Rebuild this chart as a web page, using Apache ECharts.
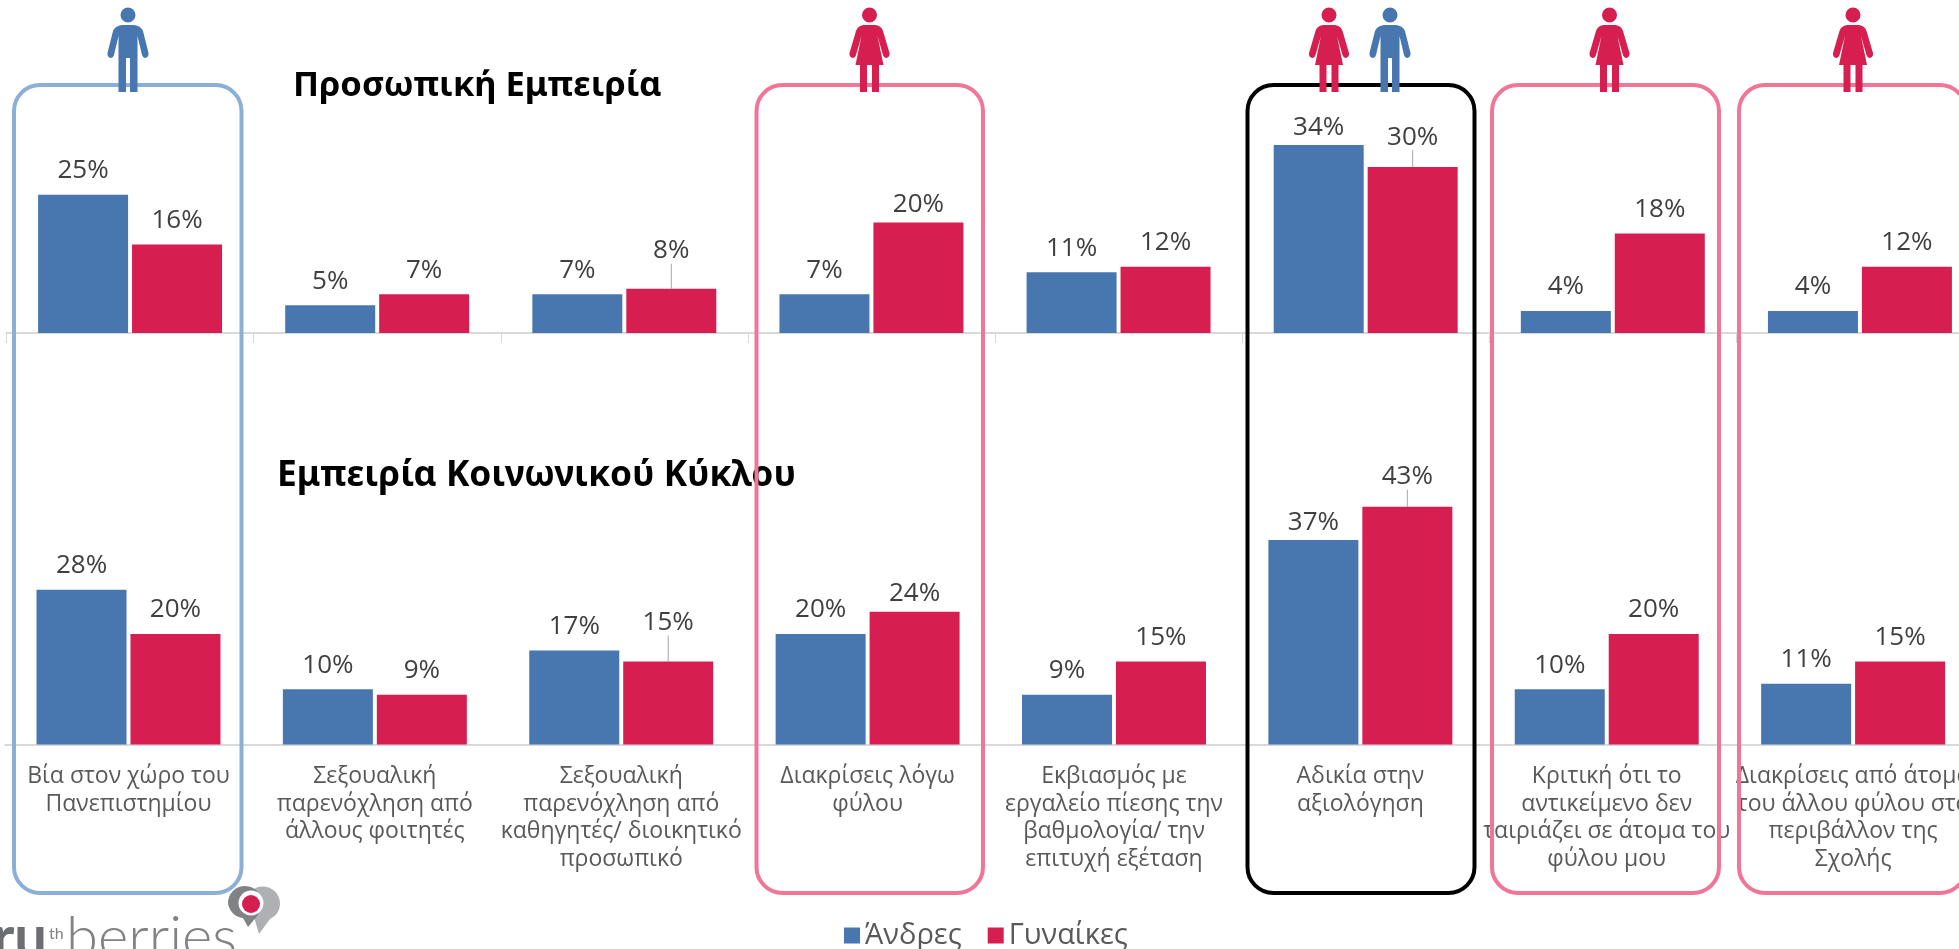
<!DOCTYPE html>
<html>
<head>
<meta charset="utf-8">
<title>Εμπειρία</title>
<script src="https://cdn.jsdelivr.net/npm/echarts@6/dist/echarts.min.js"></script>
<style>
  html, body { margin: 0; padding: 0; background: #fff; overflow: hidden; }
  #chart { width: 1959px; height: 949px; }
</style>
</head>
<body>
<div id="chart"></div>
<script>
var categories = [
  'Βία στον χώρο του\nΠανεπιστημίου',
  'Σεξουαλική\nπαρενόχληση από\nάλλους φοιτητές',
  'Σεξουαλική\nπαρενόχληση από\nκαθηγητές/ διοικητικό\nπροσωπικό',
  'Διακρίσεις λόγω\nφύλου',
  'Εκβιασμός με\nεργαλείο πίεσης την\nβαθμολογία/ την\nεπιτυχή εξέταση',
  'Αδικία στην\nαξιολόγηση',
  'Κριτική ότι το\nαντικείμενο δεν\nταιριάζει σε άτομα του\nφύλου μου',
  'Διακρίσεις από άτομα\nτου άλλου φύλου στο\nπεριβάλλον της\nΣχολής'
];
var menPersonal = [25, 5, 7, 7, 11, 34, 4, 4];
var womenPersonal = [16, 7, 8, 20, 12, 30, 18, 12];
var menCircle = [28, 10, 17, 20, 9, 37, 10, 11];
var womenCircle = [20, 9, 15, 24, 15, 43, 20, 15];

var BLUE = '#4777ae';
var RED = '#d61f50';
var FONT = '"Open Sans", "Noto Sans", sans-serif';

// labels moved by hand in the original, index -> dy
var shiftMenPersonal = { 5: 7 };
var shiftWomenPersonal = { 2: -14, 3: 6, 5: -6 };
var shiftMenCircle = { 5: 7 };
var shiftWomenCircle = { 2: -15, 3: 6, 5: -6 };
// these ones have a leader line
var leaderWomen = [2, 5];

// icon shapes, drawn around x = 0
var HEAD = 'M-7.5,15 A7.5,7.5 0 1 1 7.5,15 A7.5,7.5 0 1 1 -7.5,15 Z ';
var WOMAN = HEAD + 'M-6,25 L6,25 Q12,26 13.5,31 L20,53 Q20.5,57 17,58 Q14.5,58 13.5,55 L8,36 L14,65 L9.5,65 L9.5,92 L2.5,92 L2.5,65 L-2.5,65 L-2.5,92 L-9.5,92 L-9.5,65 L-14,65 L-8,36 L-13.5,55 Q-14.5,58 -17,58 Q-20.5,57 -20,53 L-13.5,31 Q-12,26 -6,25 Z';
var MAN = HEAD + 'M-6,25 L6,25 Q13,26 15,31 L20.5,53 Q21,57 17.5,58 Q15,58 14,55 L9.5,36 L9.5,92 L2,92 L2,58 L-2,58 L-2,92 L-9.5,92 L-9.5,36 L-14,55 Q-15,58 -17.5,58 Q-21,57 -20.5,53 L-15,31 Q-13,26 -6,25 Z';
var BUBBLE_BACK = 'M246,903 A17,17 0 1 1 270,919 L259,934 L254,917 A17,17 0 0 1 246,903 Z';
var BUBBLE_FRONT = 'M228,903 A17,17 0 0 1 258,892 L258,915 L248,927 L243,918 A17,17 0 0 1 228,903 Z';

echarts.graphic.registerShape('womanIcon', echarts.graphic.extendPath(WOMAN, {}));
echarts.graphic.registerShape('manIcon', echarts.graphic.extendPath(MAN, {}));
echarts.graphic.registerShape('bubbleBack', echarts.graphic.extendPath(BUBBLE_BACK, {}));
echarts.graphic.registerShape('bubbleFront', echarts.graphic.extendPath(BUBBLE_FRONT, {}));

function barSeries(name, color, values, axisIndex, shifts, leaders) {
  return {
    name: name,
    type: 'bar',
    xAxisIndex: axisIndex,
    yAxisIndex: axisIndex,
    barWidth: 90,
    barGap: '4.4%',
    itemStyle: { color: color },
    data: values.map(function (v, i) {
      var item = { value: v };
      if (leaders && leaders.indexOf(i) >= 0) {
        item.labelLine = { show: true, lineStyle: { color: '#a6a6a6', width: 1 } };
      }
      return item;
    }),
    label: {
      show: true,
      position: 'top',
      distance: 11,
      formatter: '{c}%',
      fontFamily: FONT,
      fontSize: 26,
      color: '#404040'
    },
    labelLayout: function (p) {
      return { dy: shifts[p.dataIndex] || 0 };
    }
  };
}

function person(x, woman) {
  return {
    type: woman ? 'womanIcon' : 'manIcon',
    x: x,
    y: 0,
    z: 30,
    style: { fill: woman ? RED : BLUE }
  };
}

function box(left, right, color) {
  return {
    type: 'rect',
    z: 20,
    shape: { x: left, y: 85, width: right - left, height: 808, r: 26 },
    style: { fill: 'transparent', stroke: color, lineWidth: 4 }
  };
}

var graphics = [
  box(14, 241.5, '#8cafd8'),
  box(756.5, 983, '#f07597'),
  box(1247.5, 1474.5, '#000000'),
  box(1492, 1719, '#f07597'),
  box(1739, 1966, '#f07597'),
  person(128, false),
  person(869.5, true),
  person(1329, true),
  person(1390, false),
  person(1609.5, true),
  person(1853, true),
  // logo
  { type: 'bubbleBack', z: 10, style: { fill: '#afb0b3' } },
  { type: 'bubbleFront', z: 11, style: { fill: '#808285' } },
  { type: 'circle', z: 12, shape: { cx: 251, cy: 903, r: 12.5 }, style: { fill: '#ffffff' } },
  { type: 'circle', z: 13, shape: { cx: 251, cy: 904, r: 9 }, style: { fill: RED } },
  { type: 'text', z: 10, x: 47, y: 967, style: { text: 'tru', textAlign: 'right', textVerticalAlign: 'bottom', fontFamily: 'Lato', fontWeight: 'bold', fontSize: 58, fill: '#6d6e71' } },
  { type: 'text', z: 10, x: 49, y: 942, style: { text: 'th', textAlign: 'left', textVerticalAlign: 'bottom', fontFamily: 'Lato', fontSize: 16, fill: '#808285' } },
  { type: 'text', z: 10, x: 66, y: 967, style: { text: 'berries', textAlign: 'left', textVerticalAlign: 'bottom', fontFamily: 'Lato', fontWeight: 300, fontSize: 58, fill: '#808285' } }
];

var chart = echarts.init(document.getElementById('chart'));

chart.setOption({
  animation: false,
  backgroundColor: '#ffffff',
  title: [
    { text: 'Προσωπική Εμπειρία', left: 293, top: 69, padding: 0, textStyle: { fontFamily: '"Noto Sans", sans-serif', fontWeight: 'bold', fontSize: 34.5, color: '#000' } },
    { text: 'Εμπειρία Κοινωνικού Κύκλου', left: 277, top: 458, padding: 0, textStyle: { fontFamily: '"Noto Sans", sans-serif', fontWeight: 'bold', fontSize: 35.3, color: '#000' } }
  ],
  legend: {
    data: ['Άνδρες', 'Γυναίκες'],
    left: 839,
    top: 916,
    icon: 'rect',
    itemWidth: 16,
    itemHeight: 16,
    itemGap: 26,
    textStyle: { fontFamily: FONT, fontSize: 29, color: '#595959' }
  },
  grid: [
    { left: 6.5, top: 56.5, width: 1977, height: 276.5, outerBoundsMode: 'none' },
    { left: 5.3, top: 468, width: 1971, height: 276.5, outerBoundsMode: 'none' }
  ],
  xAxis: [
    {
      type: 'category', gridIndex: 0, data: categories,
      axisLine: { lineStyle: { color: '#d9d9d9', width: 2 } },
      axisTick: { show: true, length: 10, lineStyle: { color: '#d9d9d9', width: 1 } },
      axisLabel: { show: false }
    },
    {
      type: 'category', gridIndex: 1, data: categories,
      axisLine: { lineStyle: { color: '#d9d9d9', width: 2 } },
      axisTick: { show: false },
      axisLabel: { interval: 0, margin: 18, fontFamily: FONT, fontSize: 23, lineHeight: 27.7, color: '#595959', hideOverlap: false }
    }
  ],
  yAxis: [
    { type: 'value', gridIndex: 0, min: 0, max: 50, show: false },
    { type: 'value', gridIndex: 1, min: 0, max: 50, show: false }
  ],
  series: [
    barSeries('Άνδρες', BLUE, menPersonal, 0, shiftMenPersonal),
    barSeries('Γυναίκες', RED, womenPersonal, 0, shiftWomenPersonal, leaderWomen),
    barSeries('Άνδρες', BLUE, menCircle, 1, shiftMenCircle),
    barSeries('Γυναίκες', RED, womenCircle, 1, shiftWomenCircle, leaderWomen)
  ],
  graphic: graphics
});
</script>
</body>
</html>
